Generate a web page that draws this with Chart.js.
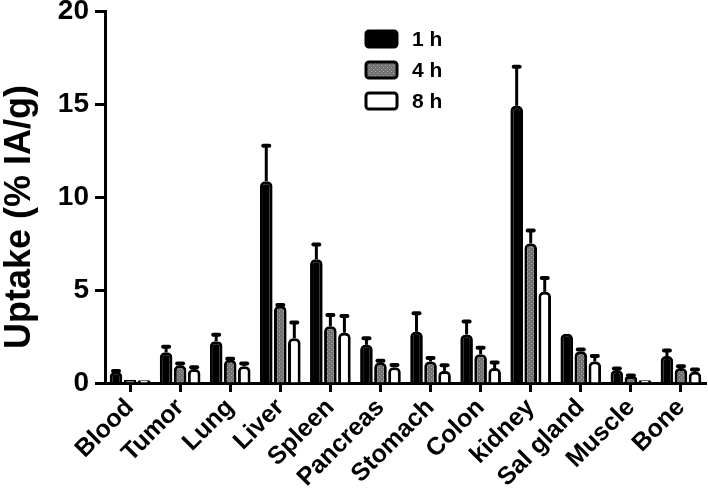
<!DOCTYPE html>
<html>
<head>
<meta charset="utf-8">
<script src="https://cdn.jsdelivr.net/npm/chart.js@4"></script>
<style>
  body { margin: 0; background: #fff; }
</style>
</head>
<body>
<canvas id="uptakeChart" width="708" height="495"></canvas>
<script>
const organs = ['Blood', 'Tumor', 'Lung', 'Liver', 'Spleen', 'Pancreas', 'Stomach', 'Colon', 'kidney', 'Sal gland', 'Muscle', 'Bone'];
const timeLabels = ['1 h', '4 h', '8 h'];
const yTitle = 'Uptake (% IA/g)';

const uptake1h = [0.6, 1.65, 2.25, 10.85, 6.65, 2.05, 2.75, 2.6, 14.9, 2.65, 0.7, 1.45];
const uptake4h = [0.18, 0.95, 1.25, 4.15, 3.05, 1.1, 1.15, 1.55, 7.5, 1.7, 0.35, 0.8];
const uptake8h = [0.15, 0.75, 0.9, 2.4, 2.7, 0.85, 0.65, 0.8, 4.9, 1.15, 0.15, 0.6];

const err1h = [0.05, 0.3, 0.35, 1.9, 0.8, 0.35, 1.0, 0.7, 2.1, 0, 0.08, 0.3];
const err4h = [0, 0.1, 0.05, 0.05, 0.6, 0.1, 0.2, 0.35, 0.7, 0.1, 0.05, 0.1];
const err8h = [0, 0.1, 0.15, 0.85, 0.9, 0.12, 0.3, 0.3, 0.75, 0.3, 0, 0.12];

const yTicks = [0, 5, 10, 15, 20];

const FONT = "'Liberation Sans', Arial, sans-serif";

function makeDotPattern() {
    const c = document.createElement('canvas');
    c.width = 4;
    c.height = 4;
    const g = c.getContext('2d');
    g.fillStyle = '#727272';
    g.fillRect(0, 0, 4, 4);
    g.fillStyle = '#a8a8a8';
    g.fillRect(1, 1, 1, 1);
    g.fillRect(3, 3, 1, 1);
    return g.createPattern(c, 'repeat');
}

const dotted = makeDotPattern();
const fills = ['#000000', dotted, '#ffffff'];
const errors = [err1h, err4h, err8h];

// upper-only error bars, like the original figure
const errorBarPlugin = {
    id: 'errorBars',
    afterDatasetsDraw(chart) {
        const ctx = chart.ctx;
        const y = chart.scales.y;
        ctx.save();
        ctx.strokeStyle = '#000';
        chart.data.datasets.forEach((ds, i) => {
            const meta = chart.getDatasetMeta(i);
            meta.data.forEach((bar, j) => {
                const err = errors[i][j];
                if (!err) return;
                const top = y.getPixelForValue(ds.data[j] + err);
                ctx.lineWidth = 3;
                ctx.lineCap = 'butt';
                ctx.beginPath();
                ctx.moveTo(bar.x, bar.y);
                ctx.lineTo(bar.x, top);
                ctx.stroke();
                ctx.lineWidth = 4;
                ctx.lineCap = 'round';
                ctx.beginPath();
                ctx.moveTo(bar.x - 3, top);
                ctx.lineTo(bar.x + 3, top);
                ctx.stroke();
            });
        });
        ctx.restore();
    }
};

// legend box inside the plot, top middle
const boxLegendPlugin = {
    id: 'boxLegend',
    afterDraw(chart) {
        const ctx = chart.ctx;
        ctx.save();
        chart.data.datasets.forEach((ds, i) => {
            const bx = 366, by = 31 + i * 31;
            ctx.beginPath();
            ctx.roundRect(bx, by, 31, 16, 3);
            ctx.fillStyle = ds.backgroundColor;
            ctx.fill();
            ctx.lineWidth = 3;
            ctx.strokeStyle = '#000';
            ctx.stroke();
            ctx.fillStyle = '#000';
            ctx.font = 'bold 21px ' + FONT;
            ctx.textBaseline = 'middle';
            ctx.textAlign = 'left';
            ctx.fillText(ds.label, 412, by + 9);
        });
        ctx.restore();
    }
};

// y title sits a bit lower than the plot middle in the original
const yTitlePlugin = {
    id: 'yTitle',
    afterDraw(chart) {
        const ctx = chart.ctx;
        ctx.save();
        ctx.translate(20, 217);
        ctx.rotate(-Math.PI / 2);
        ctx.font = 'bold 36px ' + FONT;
        ctx.fillStyle = '#000';
        ctx.textAlign = 'center';
        ctx.textBaseline = 'middle';
        ctx.fillText(yTitle, 0, 0);
        ctx.restore();
    }
};

new Chart(document.getElementById('uptakeChart'), {
    type: 'bar',
    data: {
        labels: organs,
        datasets: [uptake1h, uptake4h, uptake8h].map((vals, i) => ({
            label: timeLabels[i],
            data: vals,
            backgroundColor: fills[i],
            borderColor: '#000',
            borderWidth: 3,
            borderSkipped: 'start',
            borderRadius: 5,
            categoryPercentage: 0.84,
            barPercentage: 0.9
        }))
    },
    options: {
        responsive: false,
        animation: false,
        layout: { padding: { top: 0, right: 2, left: 0, bottom: 0 } },
        plugins: {
            legend: { display: false },
            tooltip: { enabled: false }
        },
        scales: {
            x: {
                grid: {
                    display: true,
                    drawOnChartArea: false,
                    offset: false,
                    tickLength: 9,
                    tickWidth: 3,
                    tickColor: '#000'
                },
                border: { display: true, color: '#000', width: 3 },
                ticks: {
                    color: '#000',
                    font: { family: FONT, size: 25, weight: 'bold' },
                    maxRotation: 45,
                    minRotation: 45,
                    padding: 1
                },
                afterFit(scale) { scale.height = 112; }
            },
            y: {
                min: 0,
                max: 20,
                afterBuildTicks(scale) { scale.ticks = yTicks.map(v => ({ value: v })); },
                grid: {
                    display: true,
                    drawOnChartArea: false,
                    tickLength: 10,
                    tickWidth: 3,
                    tickColor: '#000'
                },
                border: { display: true, color: '#000', width: 3 },
                ticks: {
                    color: '#000',
                    font: { family: FONT, size: 28, weight: 'bold' },
                    padding: 6
                },
                afterFit(scale) {
                    scale.width = 105;
                    scale.paddingTop = 11;
                    scale.paddingBottom = 0;
                }
            }
        }
    },
    plugins: [errorBarPlugin, boxLegendPlugin, yTitlePlugin]
});
</script>
</body>
</html>
